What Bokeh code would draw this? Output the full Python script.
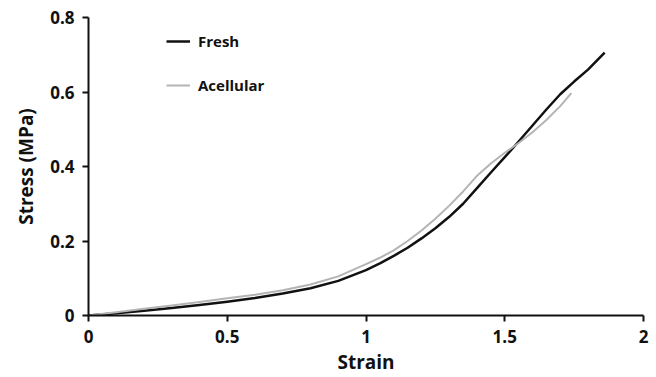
from bokeh.plotting import figure
from bokeh.models import Legend, LegendItem, FixedTicker, NumeralTickFormatter, Range1d
from bokeh.embed import file_html
from bokeh.resources import INLINE

fresh_strain = [0, 0.1, 0.2, 0.3, 0.4, 0.5, 0.6, 0.7, 0.8, 0.9, 1.0, 1.05, 1.1, 1.15, 1.2, 1.25, 1.3,
                1.35, 1.4, 1.45, 1.5, 1.55, 1.6, 1.65, 1.7, 1.75, 1.8, 1.86]
fresh_stress = [0, 0.006, 0.013, 0.02, 0.028, 0.037, 0.047, 0.059, 0.073, 0.093, 0.122, 0.14, 0.16, 0.182,
                0.207, 0.234, 0.265, 0.3, 0.342, 0.384, 0.425, 0.467, 0.51, 0.553, 0.594, 0.628, 0.66, 0.706]

acell_strain = [0, 0.1, 0.2, 0.3, 0.4, 0.5, 0.6, 0.7, 0.8, 0.9, 1.0, 1.05, 1.1, 1.15, 1.2, 1.25, 1.3,
                1.35, 1.4, 1.45, 1.5, 1.55, 1.6, 1.65, 1.7, 1.74]
acell_stress = [0, 0.009, 0.018, 0.027, 0.036, 0.046, 0.056, 0.068, 0.083, 0.105, 0.138, 0.155, 0.175, 0.2,
                0.228, 0.26, 0.295, 0.333, 0.375, 0.408, 0.437, 0.463, 0.492, 0.525, 0.562, 0.597]

x_ticks = [0, 0.5, 1, 1.5, 2]
y_ticks = [0, 0.2, 0.4, 0.6, 0.8]

FONT = "Open Sans"

p = figure(width=656, height=377, output_backend="svg", toolbar_location=None,
           x_range=Range1d(0, 2), y_range=Range1d(0, 0.8))
p.min_border_left = 88
p.min_border_right = 13
p.min_border_top = 17
p.min_border_bottom = 61
p.outline_line_color = None
p.grid.visible = False

r_fresh = p.line(fresh_strain, fresh_stress, line_color="#111111", line_width=2.5, line_join="round")
r_acell = p.line(acell_strain, acell_stress, line_color="#b4b4b4", line_width=2, line_join="round")

for ax, ticks in ((p.xaxis[0], x_ticks), (p.yaxis[0], y_ticks)):
    ax.ticker = FixedTicker(ticks=ticks)
    ax.formatter = NumeralTickFormatter(format="0.[0]")
    ax.axis_line_width = 2
    ax.axis_line_color = "#111111"
    ax.major_tick_line_width = 2
    ax.major_tick_line_color = "#111111"
    ax.major_tick_in = 0
    ax.major_tick_out = 6
    ax.minor_tick_line_color = None
    ax.major_label_standoff = 8
    ax.major_label_text_font = FONT
    ax.major_label_text_font_style = "bold"
    ax.major_label_text_font_size = "17px"
    ax.major_label_text_color = "#111111"
    ax.axis_label_text_font = FONT
    ax.axis_label_text_font_style = "bold"
    ax.axis_label_text_font_size = "19px"
    ax.axis_label_text_color = "#111111"

p.xaxis[0].axis_label = "Strain"
p.yaxis[0].axis_label = "Stress (MPa)"
p.xaxis[0].axis_label_standoff = 3
p.yaxis[0].axis_label_standoff = 8

legend = Legend(items=[LegendItem(label="Fresh", renderers=[r_fresh]),
                       LegendItem(label="Acellular", renderers=[r_acell])],
                location=(78, 220), padding=0, margin=0, spacing=24,
                glyph_width=24, glyph_height=20, label_height=20,
                label_standoff=8, border_line_color=None, background_fill_alpha=0,
                label_text_font=FONT, label_text_font_style="bold",
                label_text_font_size="15px", label_text_color="#111111")
p.add_layout(legend)

open("out.html", "w").write(file_html(p, INLINE))
